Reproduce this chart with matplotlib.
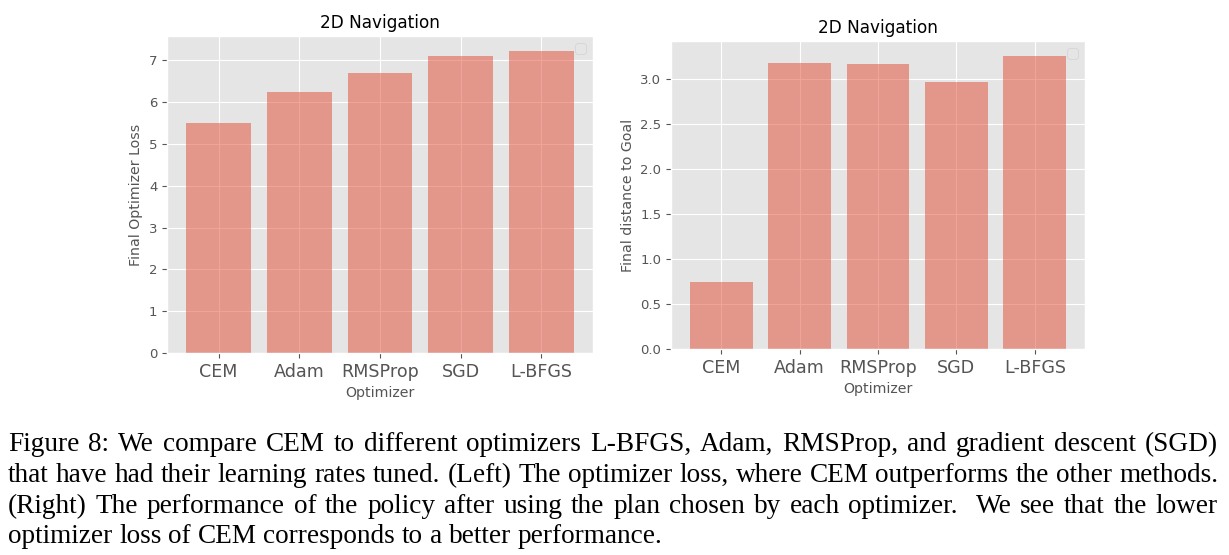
import matplotlib
matplotlib.use('Agg')
from matplotlib import pyplot as plt

optimizers = ['CEM', 'Adam', 'RMSProp', 'SGD', 'L-BFGS']
final_loss = [5.50, 6.24, 6.70, 7.10, 7.22]
final_distance = [0.74, 3.18, 3.17, 2.97, 3.26]

caption_lines = [
    "Figure 8: We compare CEM to different optimizers L-BFGS, Adam, RMSProp, and gradient descent (SGD)",
    "that have had their learning rates tuned. (Left) The optimizer loss, where CEM outperforms the other methods.",
    "(Right) The performance of the policy after using the plan chosen by each optimizer.  We see that the lower",
    "optimizer loss of CEM corresponds to a better performance.",
]

plt.style.use('ggplot')
W, H = 1229, 555
figure = plt.figure(dpi=100, figsize=(W / 100, H / 100))


def make_axes(left, right, top, bottom):
    return figure.add_axes([left / W, 1 - bottom / H, (right - left) / W, (bottom - top) / H])


ax1 = make_axes(167, 593, 36, 353)
ax2 = make_axes(671, 1085, 41, 349)

for ax, values, ylabel in [(ax1, final_loss, 'Final Optimizer Loss'),
                           (ax2, final_distance, 'Final distance to Goal')]:
    ax.bar(optimizers, values, width=0.8, alpha=0.5)
    ax.set_title('2D Navigation', fontsize=12.2)
    ax.set_xlabel('Optimizer', fontsize=10.2)
    ax.set_ylabel(ylabel, fontsize=10.2)
    ax.tick_params(axis='x', labelsize=12.6)
    ax.tick_params(axis='y', labelsize=9.5)
    ax.legend(handles=[], loc='upper right')

# caption, justified word by word
figure.canvas.draw()
renderer = figure.canvas.get_renderer()
fs = 19.6
x0, x1 = 8, 1218
baselines = [451, 482, 513, 543]
for i, line in enumerate(caption_lines):
    words = line.split(' ')
    texts = [figure.text(0, 0, w, fontsize=fs, family='Liberation Serif',
                         va='baseline', ha='left') for w in words]
    widths = [t.get_window_extent(renderer).width if w else 0 for t, w in zip(texts, words)]
    space = fs / 72 * 100 * 0.25
    if i < len(caption_lines) - 1:
        gap = (x1 - x0 - sum(widths)) / (len(words) - 1)
    else:
        gap = space
    x = x0
    for t, w in zip(texts, widths):
        t.set_position((x / W, 1 - baselines[i] / H))
        x += w + gap

plt.savefig('out.png', dpi=100)
